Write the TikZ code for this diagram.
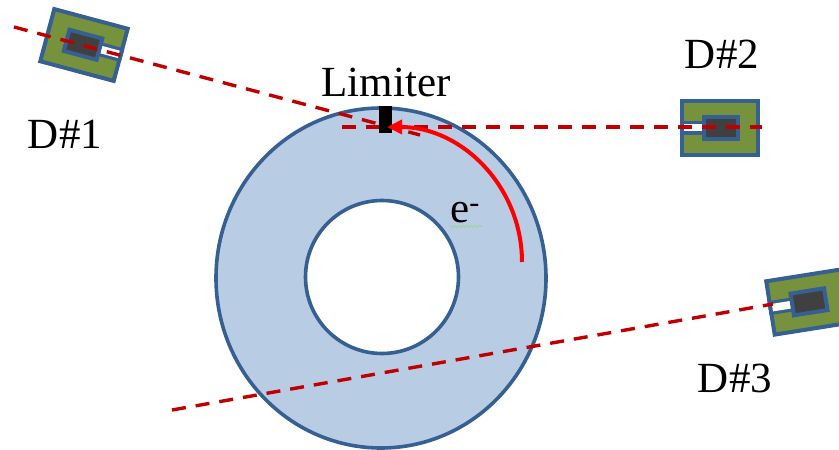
\documentclass[tikz,border=0pt]{standalone}
\usepackage{fontspec}
\setmainfont{Liberation Serif}
\usetikzlibrary{arrows.meta,decorations.pathmorphing}
\definecolor{ringfill}{HTML}{B8CCE4}
\definecolor{edgeblue}{HTML}{376092}
\definecolor{detgreen}{HTML}{76923C}
\definecolor{detgray}{HTML}{404040}
\definecolor{beamred}{HTML}{C00000}
\definecolor{squig}{HTML}{A5D2A8}
\tikzset{
  x=1pt,y=-1pt,
  ringline/.style={draw=edgeblue,line width=3.6pt},
  beam/.style={draw=beamred,line width=3.4pt,dash pattern=on 14pt off 10pt},
  label/.style={inner sep=0pt,font=\fontsize{43}{43}\selectfont},
  detector/.pic={
    \draw[edgeblue,line width=4pt,fill=detgreen,line join=miter] (-38,-27) rectangle (38,27);
    \fill[edgeblue] (-40,-7) rectangle (-15,7);
    \fill[white] (-36,-3.8) rectangle (-15,3.8);
    \draw[edgeblue,line width=4pt,fill=detgray] (-16,-11) rectangle (18,11);
  }
}
\begin{document}
\begin{tikzpicture}
\useasboundingbox (0,0) rectangle (839,450);
\clip (0,0) rectangle (839,450);
\draw[ringline,fill=ringfill] (381,278) ellipse [x radius=165,y radius=170];
\draw[ringline,fill=white] (382,277) circle [radius=76.5];
\pic at (84,45) [rotate=165] {detector};
\pic at (719.5,127.5) {detector};
\pic at (808,302) [rotate=9] {detector};
\coordinate (a1) at (14,27);
\coordinate (b1) at (420,135);
\coordinate (a2) at (342,127);
\coordinate (b2) at (762,127);
\coordinate (a3) at (172,410);
\coordinate (b3) at (773,304);
\draw[beam] (a1) -- (b1);
\draw[beam] (a2) -- (b2);
\draw[beam] (a3) -- (b3);
\node[fill=black,minimum width=13pt,minimum height=27pt,inner sep=0pt] (limiter) at (385.5,119.5) {};
\coordinate (arcstart) at (522,262);
\coordinate (arcend) at (387,127);
\draw[red,line width=4pt,-{Triangle[length=15pt,width=14pt]}] (arcstart) .. controls (522,187) and (462,127) .. (arcend);
\node[label] (limtext) at (386,82) {Limiter};
\node[label] (d1) at (65,134) {D\#1};
\node[label] (d2) at (722,54) {D\#2};
\node[label] (d3) at (735,378) {D\#3};
\node[label,anchor=base west] (etext) at (450,222) {e\textsuperscript{-}};
\coordinate (sqa) at (450,227);
\coordinate (sqb) at (482,226);
\draw[squig,line width=1.3pt,decorate,decoration={snake,amplitude=0.9pt,segment length=4pt}] (sqa) -- (sqb);
\end{tikzpicture}
\end{document}
